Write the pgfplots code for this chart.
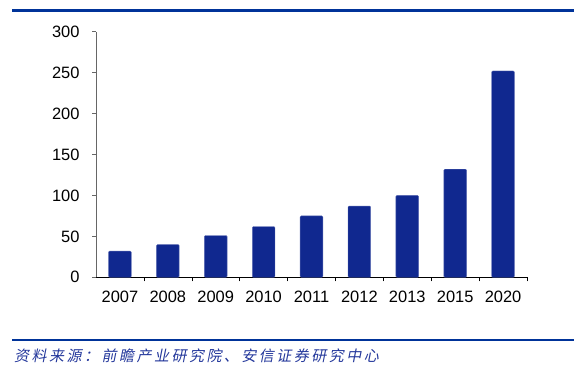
\documentclass[border=0pt]{standalone}
\usepackage{pgfplots}
\pgfplotsset{compat=1.18}
\usepackage{fontspec}
\setmainfont{Liberation Sans}
\newfontfamily\cjk[FakeSlant=0.2,LetterSpace=17]{Noto Sans CJK SC}
\definecolor{barblue}{RGB}{16,40,143}
\definecolor{lineblue}{RGB}{0,51,153}
\definecolor{srcblue}{RGB}{35,55,155}
\begin{document}
\begin{tikzpicture}
\path[use as bounding box] (0bp,0bp) rectangle (581bp,372bp);
\draw[lineblue, line width=2.2bp] (12bp,361.5bp) -- (574bp,361.5bp);
\draw[lineblue, line width=2.2bp] (12bp,32bp) -- (574bp,32bp);
\node[anchor=base west, inner sep=0pt, text=srcblue, font=\cjk\fontsize{15}{17}\selectfont] at (14bp,10.5bp) {资料来源：前瞻产业研究院、安信证券研究中心};
\begin{axis}[
  at={(96bp,94.7bp)}, anchor=south west,
  scale only axis, width=431bp, height=245.6bp,
  xmin=-0.5, xmax=8.5, ymin=0, ymax=300,
  ytick={0,50,100,150,200,250,300},
  xtick={0,...,8},
  xticklabels={2007,2008,2009,2010,2011,2012,2013,2015,2020},
  minor xtick={0.5,1.5,...,7.5,8.5},
  major x tick style={draw=none},
  minor x tick style={black, thin},
  axis x line*=bottom, axis y line*=left,
  x axis line style={black, thin, -},
  y axis line style={gray!80!black, thin, -},
  ytick style={gray!80!black, thin},
  tick align=outside,
  major tick length=4bp, minor tick length=4bp,
  tick label style={font=\fontsize{16.5}{18}\selectfont},
  /pgf/number format/assume math mode=true,
  yticklabel style={xshift=-9bp},
  xticklabel style={yshift=-6bp},
  ybar, bar width=22.7bp,
]
\addplot[fill=barblue, draw=barblue!70!white, rounded corners=1bp] coordinates {
(0,32) (1,40) (2,51) (3,62) (4,75) (5,87) (6,100) (7,132) (8,252)};
\end{axis}
\end{tikzpicture}
\end{document}
